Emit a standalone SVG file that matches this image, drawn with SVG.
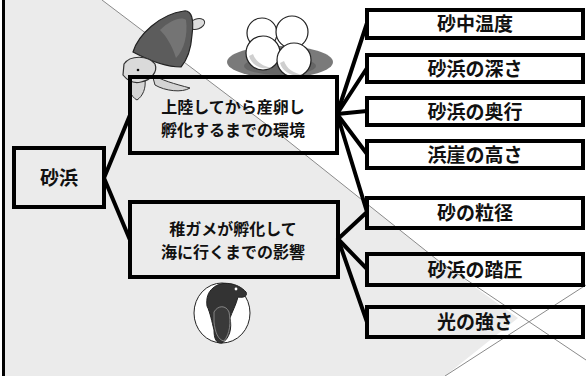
<svg xmlns="http://www.w3.org/2000/svg" width="586" height="376" viewBox="0 0 586 376">
  <defs>
    <style>
      .box { fill: none; stroke: #000; stroke-width: 4; }
      .link { fill: none; stroke: #000; stroke-width: 4; stroke-linecap: round; }
      .fold { fill: none; stroke: #8a8a8a; stroke-width: 1; }
      .t-main { font-family: "Noto Sans CJK JP", "Noto Sans", sans-serif; font-weight: bold; font-size: 16px; fill: #111; text-anchor: middle; }
      .t-item { font-family: "Noto Sans CJK JP", "Noto Sans", sans-serif; font-weight: bold; font-size: 19px; fill: #111; text-anchor: middle; }
      .egg { fill: #fff; stroke: #222; stroke-width: 1.2; }
      .egg-shade { fill: #cfcfcf; }
    </style>
  </defs>

  <!-- background: grey sheet with folded corners -->
  <rect x="0" y="0" width="586" height="376" fill="#fff"/>
  <path d="M3,0 L102,0 L283,137 L440,262 L518,318 L445,376 L3,376 Z" fill="#ebebeb"/>
  <path class="fold" d="M102,0 L283,137 L440,262 L586,360"/>
  <path class="fold" d="M445,376 L586,285"/>
  <line x1="3.5" y1="0" x2="3.5" y2="376" stroke="#000" stroke-width="3"/>

  <!-- illustrations -->
  <g id="turtle">
    <ellipse cx="197" cy="24" rx="8" ry="5" transform="rotate(-20 197 24)" fill="#dcdcdc" stroke="#333" stroke-width="1"/>
    <path d="M133,52 C138,35 160,14 184,11 C192,10 194,20 192,35 C191,50 187,60 181,67 C168,67 150,61 133,52 Z" fill="#5c5c5c" stroke="#222" stroke-width="1.2"/>
    <path d="M160,30 C170,20 182,16 186,20 C188,35 184,50 176,58 C172,45 166,36 160,30 Z" fill="#747474"/>
    <path d="M152,74 C160,80 175,84 190,88 C182,93 165,91 155,85 Z" fill="#d4d4d4" stroke="#333" stroke-width="1"/>
    <path d="M130,77 C127,88 131,97 137,100 C143,96 146,88 145,80 Z" fill="#d4d4d4" stroke="#333" stroke-width="1"/>
    <path d="M124,64 C130,55 148,55 155,64 C158,72 151,80 141,82 C133,84 127,80 123,75 Z" fill="#dadada" stroke="#333" stroke-width="1.2"/>
    <circle cx="138" cy="70" r="1.3" fill="#111"/>
  </g>

  <g id="eggs">
    <ellipse cx="280" cy="62" rx="53" ry="16" fill="#7a7a7a"/>
    <ellipse cx="280" cy="66" rx="36" ry="9" fill="#666"/>
    <circle class="egg" cx="262" cy="33" r="15"/>
    <circle class="egg" cx="292" cy="32" r="16"/>
    <circle class="egg" cx="263" cy="53" r="17"/>
    <path class="egg-shade" d="M249,56 C252,66 262,70 272,68 C262,66 256,62 253,54 Z"/>
    <circle class="egg" cx="294" cy="60" r="17"/>
    <path class="egg-shade" d="M280,63 C283,73 293,77 303,75 C293,73 287,69 284,61 Z"/>
  </g>

  <g id="hatchling">
    <ellipse cx="222" cy="313" rx="28" ry="30" fill="#fff" stroke="#222" stroke-width="1"/>
    <path d="M213,288 C222,280 238,283 246,292 C248,296 244,298 238,297 C236,305 232,312 230,318 C232,328 230,338 222,343 C216,344 214,338 214,330 C212,322 210,312 207,306 C206,298 208,292 213,288 Z" fill="#333" stroke="#222" stroke-width="1"/>
    <path d="M214,312 C218,305 226,305 229,312 C231,322 230,334 224,341 C218,340 215,332 214,322 Z" fill="#3a3a3a" stroke="#999" stroke-width="0.8"/>
    <circle cx="236" cy="289" r="1.4" fill="#fff"/>
  </g>

  <!-- connectors -->
  <g id="connectors">
    <path class="link" d="M104,178 L130,115"/>
    <path class="link" d="M104,178 L130,240"/>
    <path class="link" d="M337,114 L367,23"/>
    <path class="link" d="M337,114 L367,68"/>
    <path class="link" d="M337,114 L367,111"/>
    <path class="link" d="M337,114 L367,154"/>
    <path class="link" d="M337,114 L367,212"/>
    <path class="link" d="M338,239 L367,212"/>
    <path class="link" d="M338,239 L367,269"/>
    <path class="link" d="M338,239 L367,322"/>
  </g>

  <!-- nodes -->
  <g id="node-sand">
    <rect class="box" x="14" y="148" width="90" height="59"/>
    <text class="t-main" x="59" y="184.5" style="font-size:19px">砂浜</text>
  </g>
  <g id="node-nesting">
    <rect class="box" x="130" y="77" width="207" height="76"/>
    <text class="t-main" x="233" y="112.5">上陸してから産卵し</text>
    <text class="t-main" x="233" y="135.5">孵化するまでの環境</text>
  </g>
  <g id="node-hatchling">
    <rect class="box" x="130" y="202" width="208" height="75"/>
    <text class="t-main" x="233" y="234.5">稚ガメが孵化して</text>
    <text class="t-main" x="233" y="257.5">海に行くまでの影響</text>
  </g>

  <g id="node-temp">
    <rect class="box" x="367" y="10" width="216" height="28"/>
    <text class="t-item" x="475" y="31">砂中温度</text>
  </g>
  <g id="node-depth">
    <rect class="box" x="367" y="55" width="216" height="27"/>
    <text class="t-item" x="475" y="75.5">砂浜の深さ</text>
  </g>
  <g id="node-width">
    <rect class="box" x="367" y="98" width="216" height="27"/>
    <text class="t-item" x="475" y="118.5">砂浜の奥行</text>
  </g>
  <g id="node-cliff">
    <rect class="box" x="367" y="141" width="216" height="27"/>
    <text class="t-item" x="475" y="161.5">浜崖の高さ</text>
  </g>
  <g id="node-grain">
    <rect class="box" x="367" y="198" width="216" height="30"/>
    <text class="t-item" x="475" y="220">砂の粒径</text>
  </g>
  <g id="node-trample">
    <rect class="box" x="367" y="254" width="216" height="31"/>
    <text class="t-item" x="475" y="276.5">砂浜の踏圧</text>
  </g>
  <g id="node-light">
    <rect class="box" x="367" y="307" width="216" height="30"/>
    <text class="t-item" x="475" y="329">光の強さ</text>
  </g>
</svg>
